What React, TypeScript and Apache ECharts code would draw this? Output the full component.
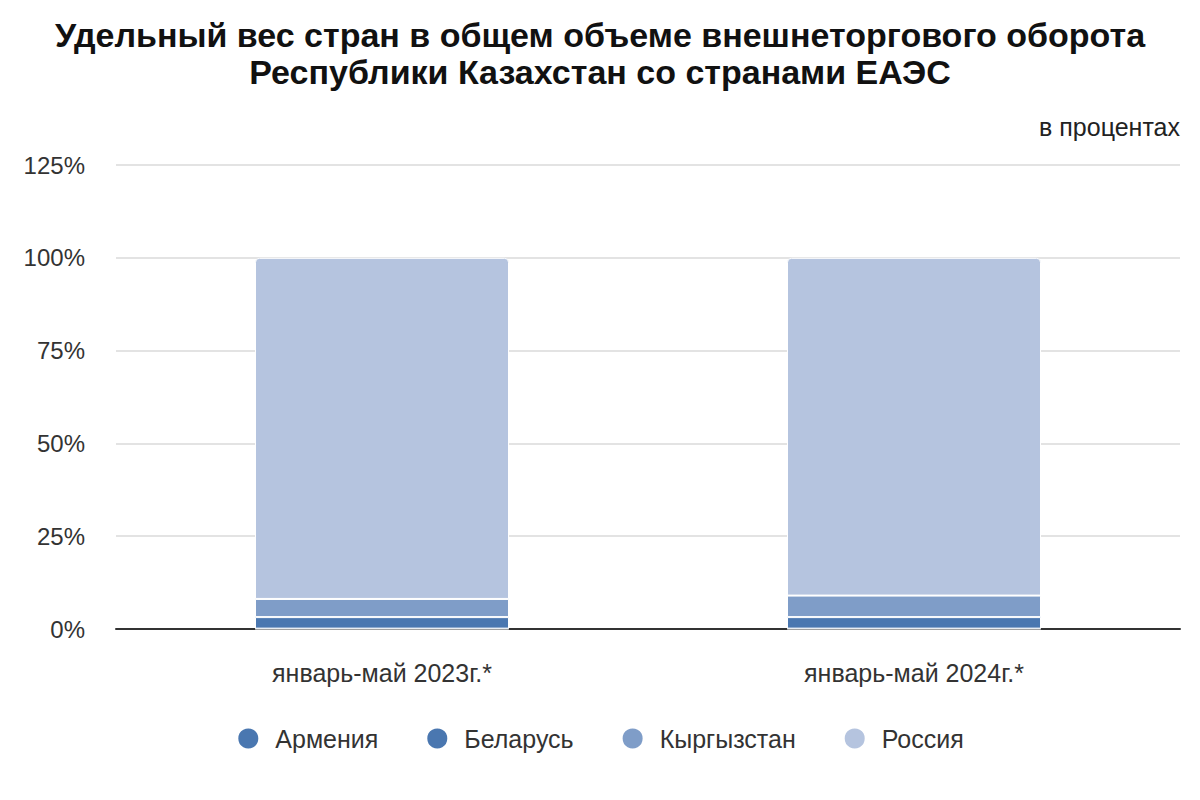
import React, { useEffect, useRef } from "react";
import * as echarts from "echarts";

const categories = ["январь-май 2023г.*", "январь-май 2024г.*"];
const seriesNames = ["Армения", "Беларусь", "Кыргызстан", "Россия"];
const armenia = [0.1, 0.1];
const belarus = [3.1, 3.1];
const kyrgyzstan = [4.9, 5.8];
const russia = [91.9, 91.0];
const colors = ["#4a77b0", "#4a77b0", "#7f9dc8", "#b5c4df"];
const yTicks = { min: 0, max: 125, interval: 25 };

const FONT = "'Liberation Sans', Arial, sans-serif";

export default function App() {
  const ref = useRef<HTMLDivElement>(null);
  useEffect(() => {
    document.body.style.margin = "0";
    const chart = echarts.init(ref.current!, null, { renderer: "svg" });
    const dataSets = [armenia, belarus, kyrgyzstan, russia];
    chart.setOption({
      animation: false,
      backgroundColor: "#ffffff",
      textStyle: { fontFamily: FONT },
      title: [
        {
          text: "Удельный вес стран в общем объеме внешнеторгового оборота\nРеспублики Казахстан со странами ЕАЭС",
          left: "center",
          top: 11,
          textStyle: {
            fontFamily: FONT,
            fontSize: 34,
            fontWeight: "bold",
            color: "#111111",
            lineHeight: 37,
            align: "center",
          },
        },
        {
          text: "в процентах",
          right: 15,
          top: 109,
          textStyle: { fontFamily: FONT, fontSize: 25, fontWeight: "normal", color: "#222222" },
        },
      ],
      legend: {
        bottom: 44,
        left: "center",
        icon: "circle",
        itemWidth: 22,
        itemHeight: 22,
        itemGap: 47,
        textStyle: { fontFamily: FONT, fontSize: 25, color: "#333333", padding: [0, 0, 0, 11] },
        data: seriesNames,
      },
      grid: { left: 116, right: 20, top: 165, bottom: 171 },
      xAxis: {
        type: "category",
        data: categories,
        axisLine: { lineStyle: { color: "#333333", width: 2 } },
        axisTick: { show: false },
        axisLabel: { fontFamily: FONT, fontSize: 25, color: "#333333", margin: 31 },
      },
      yAxis: {
        type: "value",
        min: yTicks.min,
        max: yTicks.max,
        interval: yTicks.interval,
        axisLabel: { fontFamily: FONT, fontSize: 24, color: "#333333", margin: 31, formatter: "{value}%" },
        splitLine: { lineStyle: { color: "#e3e3e3", width: 2 } },
        axisLine: { show: false },
        axisTick: { show: false },
      },
      series: seriesNames.map((name, i) => ({
        name,
        type: "bar",
        stack: "total",
        barWidth: 254,
        data: dataSets[i],
        itemStyle: {
          color: colors[i],
          borderColor: "#ffffff",
          borderWidth: 1,
          borderRadius: i === 3 ? [4, 4, 0, 0] : 0,
        },
      })),
    });
    return () => chart.dispose();
  }, []);
  return <div ref={ref} style={{ width: 1200, height: 800 }} />;
}
